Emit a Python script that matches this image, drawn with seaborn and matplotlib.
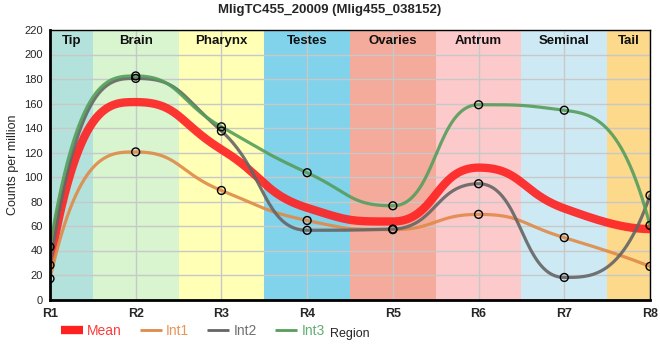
import numpy as np
import pandas as pd
import seaborn as sns
import matplotlib.pyplot as plt
from matplotlib.lines import Line2D

# values
regions = ['R1', 'R2', 'R3', 'R4', 'R5', 'R6', 'R7', 'R8']
int1 = [17, 120.5, 89, 64.5, 57, 69.5, 50.5, 27]
int2 = [28, 180.5, 137.5, 56.5, 57.5, 94.5, 18, 85]
int3 = [43, 182.5, 141, 103.5, 76.5, 159, 154.5, 60.5]
mean = list(np.mean([int1, int2, int3], axis=0))

bands = ['Tip', 'Brain', 'Pharynx', 'Testes', 'Ovaries', 'Antrum', 'Seminal', 'Tail']
band_colors = ['#b3e2dd', '#d8f5d0', '#ffffb5', '#80d3eb', '#f4ab9b',
               '#fdcacb', '#cdeaf4', '#fdd98b']

series = {'Mean': mean, 'Int1': int1, 'Int2': int2, 'Int3': int3}
colors = {'Mean': '#ff2020', 'Int1': '#e08a48', 'Int2': '#656565', 'Int3': '#559e5c'}
text_colors = {'Mean': '#ff3b3b', 'Int1': '#e8955a', 'Int2': '#707070', 'Int3': '#62ad72'}
widths = {'Mean': 6, 'Int1': 2.3, 'Int2': 2.3, 'Int3': 2.3}


def smooth(xs, ys, arm=0.5, n=60):
    # monotone bezier through the points, flat at local extremes
    xs = np.asarray(xs, float)
    ys = np.asarray(ys, float)
    h = np.diff(xs)
    s = np.diff(ys) / h
    m = np.zeros(len(xs))
    for i in range(1, len(xs) - 1):
        p = (s[i - 1] * h[i] + s[i] * h[i - 1]) / (h[i - 1] + h[i])
        m[i] = (np.sign(s[i - 1]) + np.sign(s[i])) * min(abs(s[i - 1]), abs(s[i]), 0.5 * abs(p))
    m[0] = 3 * s[0] - 2 * m[1]
    m[-1] = 3 * s[-1] - 2 * m[-2]
    last = len(xs) - 1
    px, py = [], []
    t = np.linspace(0, 1, n, endpoint=False)[:, None]
    for i in range(last):
        lo, hi = sorted((ys[i], ys[i + 1]))
        end_seg = i == 0 or i + 1 == last
        a = 1 / 3 if end_seg else arm
        p0 = np.array([xs[i], ys[i]])
        p3 = np.array([xs[i + 1], ys[i + 1]])
        p1 = np.array([xs[i] + a * h[i], np.clip(ys[i] + m[i] * a * h[i], lo, hi)])
        p2 = np.array([xs[i + 1] - a * h[i], np.clip(ys[i + 1] - m[i + 1] * a * h[i], lo, hi)])
        b = (1 - t)**3 * p0 + 3 * (1 - t)**2 * t * p1 + 3 * (1 - t) * t**2 * p2 + t**3 * p3
        px.extend(b[:, 0])
        py.extend(b[:, 1])
    px.append(xs[-1])
    py.append(ys[-1])
    return np.array(px), np.array(py)


xpos = np.arange(len(regions))
curves = []
points = []
for name, vals in series.items():
    cx, cy = smooth(xpos, vals)
    curves.append(pd.DataFrame({'x': cx, 'y': cy, 'series': name}))
    if name != 'Mean':
        points.append(pd.DataFrame({'x': xpos, 'y': vals, 'series': name}))
curves = pd.concat(curves)
points = pd.concat(points)

sns.set_style('white')
plt.rcParams['font.family'] = ['Liberation Sans', 'DejaVu Sans']

fig = plt.figure(figsize=(6.6, 3.6), dpi=100)
ax = fig.add_axes([50 / 660, 60.5 / 360, 600 / 660, 269.5 / 360])

# region bands
edges = [0, 0.5, 1.5, 2.5, 3.5, 4.5, 5.5, 6.5, 7]
for i, b in enumerate(bands):
    ax.axvspan(edges[i], edges[i + 1], color=band_colors[i], lw=0, zorder=0)
    ax.text((edges[i] + edges[i + 1]) / 2, 211, b, ha='center', va='center',
            fontsize=9.5, fontweight='bold', color='#111111', zorder=6)

for k in ['Mean', 'Int1', 'Int2', 'Int3']:
    sns.lineplot(data=curves[curves['series'] == k], x='x', y='y', color=colors[k],
                 lw=widths[k], alpha=0.9, sort=False, ax=ax, zorder=3)
sns.scatterplot(data=points, x='x', y='y', s=32, facecolor='none', edgecolor='black',
                linewidth=1, ax=ax, zorder=4, legend=False)

ax.set_xlim(0, 7)
ax.set_ylim(0, 220)
ax.set_xticks(xpos)
ax.set_xticklabels(regions, fontsize=9, fontweight='bold')
ax.set_yticks(range(0, 221, 20))
ax.tick_params(axis='y', labelsize=8, length=3, width=1, pad=2)
ax.tick_params(axis='x', length=3, width=1, pad=3)
ax.grid(True, color='#c8c8c8', lw=1)
for g in ax.get_xgridlines() + ax.get_ygridlines():
    g.set_zorder(1)
for sp in ['top', 'right']:
    ax.spines[sp].set_linewidth(1)
for sp in ['left', 'bottom']:
    ax.spines[sp].set_linewidth(2)
for sp in ax.spines.values():
    sp.set_color('black')
    sp.set_zorder(5)
ax.set_xlabel('Region', fontsize=9, labelpad=6)
ax.set_ylabel('Counts per million', fontsize=9, labelpad=4)
fig.suptitle('MligTC455_20009 (Mlig455_038152)', x=0.5, y=0.99, fontsize=9.5,
             fontweight='bold')

handles = [Line2D([], [], color=colors[k], lw=6 if k == 'Mean' else 2, solid_capstyle='butt')
           for k in series]
fig.legend(handles, list(series), loc='center left', bbox_to_anchor=(48 / 660, 29 / 360),
           ncol=4, frameon=False, fontsize=10, handlelength=1.6, handletextpad=0.3,
           columnspacing=1.3, labelcolor=[text_colors[k] for k in series])

fig.savefig('out.png', dpi=100)
